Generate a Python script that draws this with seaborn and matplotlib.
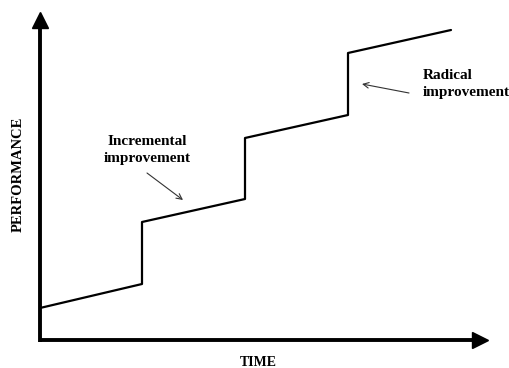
import matplotlib
matplotlib.use("Agg")
import matplotlib.pyplot as plt
import seaborn as sns
import pandas as pd

# Datos de la curva escalonada (tiempo vs rendimiento)
tiempo = [0, 102, 102, 205, 205, 308, 308, 411]
rendimiento = [32, 56, 118, 141, 202, 225, 287, 310]

etiqueta_x = "TIME"
etiqueta_y = "PERFORMANCE"
nota_incremental = "Incremental\nimprovement"
nota_radical = "Radical\nimprovement"

sns.set_style("white")
plt.rcParams["font.family"] = ["Liberation Serif", "DejaVu Serif"]
plt.rcParams["text.color"] = "black"

fig = plt.figure(figsize=(5.09, 3.68), dpi=100)
ax = fig.add_axes([0, 0, 1, 1])

data = pd.DataFrame({"tiempo": tiempo, "rendimiento": rendimiento})
sns.lineplot(data=data, x="tiempo", y="rendimiento", sort=False,
             estimator=None, color="black", linewidth=1.6, ax=ax)

ax.set_xlim(-40, 469)
ax.set_ylim(-28, 340)
ax.axis("off")

# Ejes con flechas (línea gruesa + cabeza triangular rellena)
ax.plot([0, 0], [-1.5, 316], color="black", lw=2.8, solid_capstyle="butt")
ax.plot([-1.5, 436], [0, 0], color="black", lw=2.8, solid_capstyle="butt")
ax.plot([0], [320], marker="^", markersize=12, color="black")
ax.plot([440], [0], marker=">", markersize=12, color="black")

# Etiquetas de ejes
ax.text(218, -22, etiqueta_x, ha="center", va="center",
        fontsize=10, fontweight="bold")
ax.text(-22, 166, etiqueta_y, ha="center", va="center", rotation=90,
        fontsize=10.5, fontweight="bold")

# Anotaciones
ax.text(107, 190, nota_incremental, ha="center", va="center",
        fontsize=11, fontweight="bold", linespacing=1.45)
ax.annotate("", xy=(143, 140), xytext=(107, 167),
            arrowprops=dict(arrowstyle="->", color="#333333", lw=0.8,
                            shrinkA=0, shrinkB=0))

ax.text(383, 256, nota_radical, ha="left", va="center",
        fontsize=11, fontweight="bold", linespacing=1.45)
ax.annotate("", xy=(322, 256), xytext=(369, 247),
            arrowprops=dict(arrowstyle="->", color="#333333", lw=0.8,
                            shrinkA=0, shrinkB=0))

fig.savefig("out.png", dpi=100)
